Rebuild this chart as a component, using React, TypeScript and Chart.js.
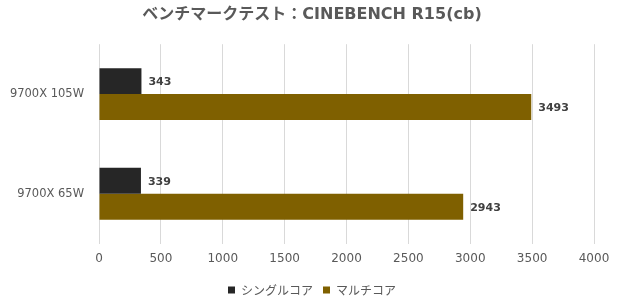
import React, { useEffect, useRef } from "react";
import { Chart, registerables } from "chart.js";

Chart.register(...registerables);

const categories = ["9700X 105W", "9700X 65W"];
const singleCore = [343, 339];
const multiCore = [3493, 2943];
const seriesNames = ["シングルコア", "マルチコア"];
const titleText = "ベンチマークテスト：CINEBENCH R15(cb)";
const xTickMax = 4000;
const xTickStep = 500;

const FONT = "'DejaVu Sans', 'Noto Sans CJK JP', sans-serif";
const JFONT = "'Noto Sans CJK JP', sans-serif";

const labelPlugin = {
  id: "barLabels",
  afterDatasetsDraw(chart: any) {
    const ctx = chart.ctx;
    ctx.save();
    ctx.font = `bold 11px ${FONT}`;
    ctx.fillStyle = "#404040";
    ctx.textAlign = "left";
    ctx.textBaseline = "middle";
    chart.data.datasets.forEach((ds: any, i: number) => {
      const meta = chart.getDatasetMeta(i);
      meta.data.forEach((bar: any, j: number) => {
        ctx.fillText(String(ds.data[j]), bar.x + 7, bar.y + 1);
      });
    });
    // category labels on the y axis (drawn unclipped)
    const yScale = chart.scales.y;
    ctx.font = `11.5px ${FONT}`;
    ctx.fillStyle = "#595959";
    ctx.textAlign = "right";
    ctx.textBaseline = "middle";
    yScale.ticks.forEach((_t: any, k: number) => {
      ctx.fillText(String(chart.data.labels[k]), yScale.right - 15, yScale.getPixelForTick(k));
    });
    ctx.restore();
  },
};

export default function App() {
  const ref = useRef<HTMLCanvasElement>(null);
  useEffect(() => {
    document.body.style.margin = "0";
    const chart = new Chart(ref.current!, {
      type: "bar",
      data: {
        labels: categories,
        datasets: [
          {
            label: seriesNames[0],
            data: singleCore,
            backgroundColor: "#262626",
            categoryPercentage: 0.52,
            barPercentage: 1,
          },
          {
            label: seriesNames[1],
            data: multiCore,
            backgroundColor: "#7F6000",
            categoryPercentage: 0.52,
            barPercentage: 1,
          },
        ],
      },
      options: {
        indexAxis: "y",
        animation: false,
        responsive: false,
        maintainAspectRatio: false,
        layout: { padding: { left: 30, right: 26, top: 0, bottom: -6 } },
        scales: {
          x: {
            min: 0,
            max: xTickMax,
            ticks: {
              stepSize: xTickStep,
              color: "#595959",
              font: { family: FONT, size: 12 },
              padding: 8,
              callback: (v: any) => String(v),
            },
            grid: { color: "#d9d9d9", drawTicks: false },
            border: { display: false },
          },
          y: {
            ticks: {
              display: false,
            },
            grid: { display: false },
            border: { display: false },
            afterFit(scale: any) {
              scale.width = 69;
            },
          },
        },
        plugins: {
          title: {
            display: true,
            text: titleText,
            color: "#595959",
            font: { family: FONT, size: 16, weight: "bold" },
            padding: { top: 5, bottom: 20 },
          },
          legend: {
            position: "bottom",
            labels: {
              color: "#595959",
              font: { family: JFONT, size: 12 },
              boxWidth: 7,
              boxHeight: 7,
              padding: 10,
            },
          },
          tooltip: { enabled: false },
        },
      },
      plugins: [labelPlugin],
    });
    return () => chart.destroy();
  }, []);
  return (
    <div style={{ position: "absolute", left: 0, top: 0, width: 620, height: 300 }}>
      <canvas ref={ref} width={620} height={300} />
    </div>
  );
}
